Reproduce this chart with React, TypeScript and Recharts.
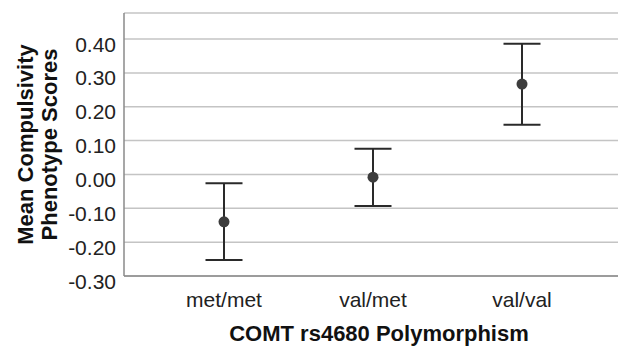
import { LineChart, Line, XAxis, YAxis, CartesianGrid, ErrorBar } from 'recharts';

const genotypes = ['met/met', 'val/met', 'val/val'];
const meanScores = [-0.14, -0.008, 0.267];
const ciLower = [-0.253, -0.093, 0.147];
const ciUpper = [-0.026, 0.076, 0.386];
const yTicks = [-0.3, -0.2, -0.1, 0, 0.1, 0.2, 0.3, 0.4];

const data = genotypes.map((g, i) => ({
  name: g,
  mean: meanScores[i],
  ci: [meanScores[i] - ciLower[i], ciUpper[i] - meanScores[i]],
}));

const font = '"Liberation Sans", Arial, sans-serif';

// SPSS draws the value labels a little below their gridlines
const YTick = (props: any) => {
  const { x, y, payload } = props;
  return (
    <text x={x} y={y + 5} textAnchor="end" dominantBaseline="central" fontFamily={font} fontSize={21} fill="#222">
      {payload.value.toFixed(2)}
    </text>
  );
};

const YTitle = (props: any) => {
  const vb = props.viewBox;
  const cy = vb.y + vb.height / 2;
  return (
    <g fontFamily={font} fontWeight="bold" fontSize={22} fill="#111">
      <text x={25} y={cy} transform={`rotate(-90, 25, ${cy})`} textAnchor="middle" dominantBaseline="central">
        Mean Compulsivity
      </text>
      <text x={49} y={cy} transform={`rotate(-90, 49, ${cy})`} textAnchor="middle" dominantBaseline="central">
        Phenotype Scores
      </text>
    </g>
  );
};

const XTitle = (props: any) => {
  const vb = props.viewBox;
  return (
    <text x={vb.x + vb.width / 2 + 8} y={341} textAnchor="middle" fontFamily={font} fontWeight="bold" fontSize={22} fill="#111">
      COMT rs4680 Polymorphism
    </text>
  );
};

export default function App() {
  return (
    <div style={{ position: 'absolute', left: 0, top: 0, background: '#fff' }}>
      <LineChart width={618} height={346} data={data} margin={{ top: 13, right: 0, bottom: 0, left: 0 }}>
        <CartesianGrid vertical={false} stroke="#c4c4c4" strokeWidth={1.5} />
        <XAxis
          dataKey="name"
          height={70}
          padding={{ left: 100, right: 96 }}
          tickLine={false}
          axisLine={{ stroke: '#8a8a8a', strokeWidth: 1.5 }}
          tick={{ fill: '#222', fontSize: 21, fontFamily: font }}
          tickMargin={10}
          label={{ content: XTitle }}
        />
        <YAxis
          width={124}
          domain={[-0.3, 0.477]}
          ticks={yTicks}
          interval={0}
          tickLine={false}
          tickSize={6}
          tickMargin={2}
          axisLine={{ stroke: '#8a8a8a', strokeWidth: 1.5 }}
          tick={YTick}
          label={{ content: YTitle }}
        />
        <Line
          dataKey="mean"
          stroke="none"
          isAnimationActive={false}
          dot={{ r: 5.5, fill: '#3c3c3c', stroke: 'none' }}
          activeDot={false}
        >
          <ErrorBar dataKey="ci" direction="y" width={18.5} stroke="#2a2a2a" strokeWidth={2} isAnimationActive={false} />
        </Line>
      </LineChart>
    </div>
  );
}
